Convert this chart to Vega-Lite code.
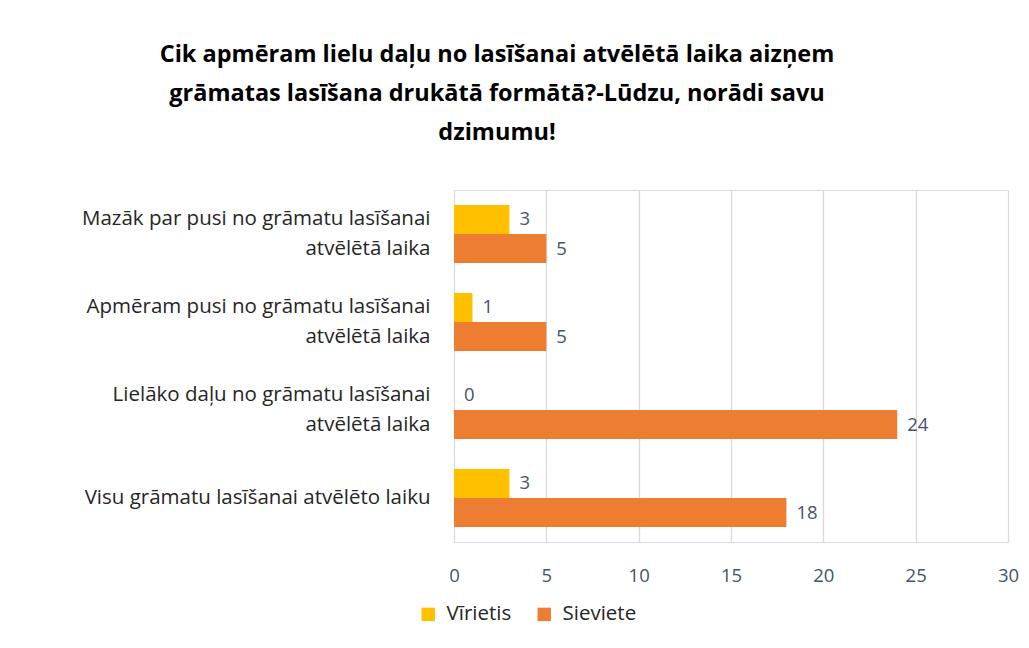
{
  "$schema": "https://vega.github.io/schema/vega-lite/v6.json",
  "width": 554,
  "height": 352,
  "autosize": {"type": "none"},
  "padding": {"left": 454, "top": 190, "right": 21, "bottom": 106},
  "background": "white",
  "title": {
    "text": ["Cik apmēram lielu daļu no lasīšanai atvēlētā laika aizņem", "grāmatas lasīšana drukātā formātā?-Lūdzu, norādi savu", "dzimumu!"],
    "font": "Open Sans",
    "fontSize": 23.5,
    "fontWeight": "bold",
    "color": "#000000",
    "lineHeight": 39,
    "anchor": "middle",
    "dx": -234,
    "offset": 46
  },
  "data": {
    "values": [
      {"cat": "Mazāk par pusi no grāmatu lasīšanai|atvēlētā laika", "gender": "Vīrietis", "value": 3},
      {"cat": "Mazāk par pusi no grāmatu lasīšanai|atvēlētā laika", "gender": "Sieviete", "value": 5},
      {"cat": "Apmēram pusi no grāmatu lasīšanai|atvēlētā laika", "gender": "Vīrietis", "value": 1},
      {"cat": "Apmēram pusi no grāmatu lasīšanai|atvēlētā laika", "gender": "Sieviete", "value": 5},
      {"cat": "Lielāko daļu no grāmatu lasīšanai|atvēlētā laika", "gender": "Vīrietis", "value": 0},
      {"cat": "Lielāko daļu no grāmatu lasīšanai|atvēlētā laika", "gender": "Sieviete", "value": 24},
      {"cat": "Visu grāmatu lasīšanai atvēlēto laiku", "gender": "Vīrietis", "value": 3},
      {"cat": "Visu grāmatu lasīšanai atvēlēto laiku", "gender": "Sieviete", "value": 18}
    ]
  },
  "encoding": {
    "y": {
      "field": "cat",
      "type": "nominal",
      "sort": null,
      "title": null,
      "scale": {"paddingInner": 0.34, "paddingOuter": 0.17},
      "axis": {
        "domain": false,
        "ticks": false,
        "labelPadding": 24,
        "labelFont": "Open Sans",
        "labelFontSize": 20.5,
        "labelColor": "#262626",
        "labelLineHeight": 30,
        "labelLimit": 450,
        "labelOffset": {"condition": {"test": "indexof(datum.label, '|') >= 0", "value": -15}, "value": 0},
        "labelExpr": "split(datum.label, '|')"
      }
    },
    "yOffset": {"field": "gender", "type": "nominal", "sort": ["Vīrietis", "Sieviete"]},
    "x": {
      "field": "value",
      "type": "quantitative",
      "title": null,
      "scale": {"domain": [0, 30]},
      "axis": {
        "values": [0, 5, 10, 15, 20, 25, 30],
        "domain": false,
        "ticks": false,
        "grid": true,
        "gridColor": "#D9D9D9",
        "gridWidth": 1.3,
        "labelFlush": false,
        "labelFont": "Open Sans",
        "labelFontSize": 18.5,
        "labelColor": "#44546A",
        "labelPadding": 24
      }
    }
  },
  "layer": [
    {
      "mark": {"type": "bar"},
      "encoding": {
        "color": {
          "field": "gender",
          "type": "nominal",
          "sort": ["Vīrietis", "Sieviete"],
          "scale": {"domain": ["Vīrietis", "Sieviete"], "range": ["#FFC000", "#ED7D31"]},
          "legend": {
            "title": null,
            "orient": "none",
            "direction": "horizontal",
            "legendX": -36,
            "legendY": 414,
            "symbolType": "square",
            "symbolSize": 180,
            "labelFont": "Open Sans",
            "labelFontSize": 20.5,
            "labelColor": "#262626",
            "labelOffset": 8,
            "columnPadding": 22,
            "symbolStrokeWidth": 0
          }
        }
      }
    },
    {
      "mark": {"type": "text", "align": "left", "dx": 10, "font": "Open Sans", "fontSize": 18.5, "color": "#44546A"},
      "encoding": {
        "text": {"field": "value", "type": "quantitative"}
      }
    }
  ]
}
